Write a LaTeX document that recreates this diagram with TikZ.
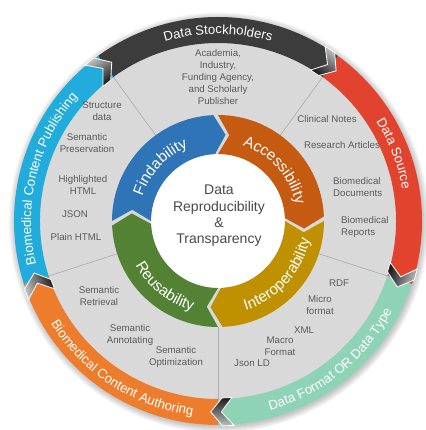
\documentclass[tikz,border=0pt]{standalone}
\usepackage{fontspec}
\setmainfont{Liberation Sans}
\usetikzlibrary{decorations.text}

\definecolor{discgray}{HTML}{D9D9D9}
\definecolor{rulegray}{HTML}{AAB0B5}
\definecolor{itemgray}{HTML}{5A5A5A}
\definecolor{coregray}{HTML}{4A4A4A}
\definecolor{holderband}{HTML}{3C3C3C}
\definecolor{sourceband}{HTML}{E2432E}
\definecolor{formatband}{HTML}{8FD3B6}
\definecolor{authorband}{HTML}{ED7D2C}
\definecolor{publishband}{HTML}{21ACDC}
\definecolor{findarc}{HTML}{2E74B7}
\definecolor{accessarc}{HTML}{C55A11}
\definecolor{interarc}{HTML}{BF9000}
\definecolor{reusearc}{HTML}{548235}

\newcommand{\bandfont}{\fontsize{13.2}{15}\selectfont}
\newcommand{\ringfont}{\fontsize{15.3}{17}\selectfont}

\tikzset{
  itemtext/.style={font=\fontsize{9.7}{12}\selectfont, text=itemgray,
                   align=center, inner sep=0pt},
  coretext/.style={font=\fontsize{14}{16.3}\selectfont, text=coregray,
                   align=center, inner sep=0pt},
  divider/.style={draw=rulegray, line width=0.7pt},
  chevron/.style={top color=black!25, bottom color=black!90,
                  draw=white, line width=0.8pt},
}

% outer band, clockwise from #2 to #3
\newcommand{\outerband}[3]{%
  \fill[#1] (#2:204) arc[start angle=#2, end angle=#3, radius=204]
    -- (#3:178) arc[start angle=#3, end angle=#2, radius=178] -- cycle;}

% dark chevron sitting on a band joint, pointing clockwise
\newcommand{\bandchevron}[1]{%
  \pgfmathsetmacro\chevBack{#1+4.5}%
  \pgfmathsetmacro\chevNotch{#1+1}%
  \pgfmathsetmacro\chevFront{#1+1.3}%
  \pgfmathsetmacro\chevTip{#1-2.2}%
  \pgfmathsetmacro\chevShade{#1-90}%
  \shadedraw[chevron, shading angle=\chevShade]
    (\chevBack:205) -- (\chevNotch:191) -- (\chevBack:177)
    -- (\chevFront:177) -- (\chevTip:191) -- (\chevFront:205) -- cycle;}

% inner arrow: notch at #2, tip just past #3
\newcommand{\ringarrow}[3]{%
  \pgfmathsetmacro\arrEnd{#3+2.5}%
  \pgfmathsetmacro\arrTip{#3-5}%
  \pgfmathsetmacro\arrNotch{#2-7.5}%
  \fill[#1] (#2:106) arc[start angle=#2, end angle=\arrEnd, radius=106]
    -- (\arrTip:86.5) -- (\arrEnd:67)
    arc[start angle=\arrEnd, end angle=#2, radius=67]
    -- (\arrNotch:86.5) -- cycle;}

% white lettering along an arc: radius, from, to, font, text
\newcommand{\arctext}[5]{%
  \path[decorate, decoration={text along path, text align=center,
        text color=white, text={|#4|#5}}]
    (#2:#1) arc[start angle=#2, end angle=#3, radius=#1];}

\begin{document}
\begin{tikzpicture}[x=1pt, y=1pt]
  \useasboundingbox (-218,-209) rectangle (207,221);

  % soft shadow round the wheel
  \foreach \i in {0,...,6}
    \fill[black, opacity=0.035] (1,-1.5) circle ({204+\i});

  \fill[discgray] (0,0) circle (180);
  \foreach \a in {126,54,-18,-90,198}
    \draw[divider] (\a:106) -- (\a:179);

  % outer bands
  \outerband{holderband}{126}{54}
  \outerband{sourceband}{54}{-18}
  \outerband{formatband}{342}{270}
  \outerband{authorband}{270}{198}
  \outerband{publishband}{198}{126}
  \foreach \a in {126,54,-18,-90,198}
    {\bandchevron{\a}}

  \arctext{187}{125}{55}{\bandfont}{Data Stockholders}
  \arctext{187}{56}{-14}{\bandfont}{Data Source}
  \arctext{196}{-86}{-16}{\bandfont}{Data Format OR Data Type}
  \arctext{196}{202}{272}{\bandfont}{Biomedical Content Authoring}
  \arctext{187}{201}{131}{\bandfont}{Biomedical Content Publishing}

  % inner cycle
  \fill[white] (0,0) circle (67);
  \ringarrow{findarc}{180}{90}
  \ringarrow{accessarc}{90}{0}
  \ringarrow{interarc}{0}{-90}
  \ringarrow{reusearc}{-90}{-180}

  \arctext{79.5}{177}{97}{\ringfont}{Findability}
  \arctext{79.5}{83}{1}{\ringfont}{Accessibility}
  \arctext{93.5}{-84}{0}{\ringfont}{Interoperability}
  \arctext{93.5}{191}{271}{\ringfont}{Reusability}

  \node[coretext] (core) at (1,5)
    {Data\\Reproducibility\\\&\\Transparency};

  % stockholders
  \node[itemtext] (holders) at (0,144)
    {Academia,\\Industry,\\Funding Agency,\\and Scholarly\\Publisher};

  % data sources
  \node[itemtext] (clinical) at (109,102) {Clinical Notes};
  \node[itemtext] (research) at (124,76) {Research Articles};
  \node[itemtext, align=left, anchor=west] (documents) at (115,34)
    {Biomedical\\Documents};
  \node[itemtext, align=left, anchor=west] (reports) at (123,-6)
    {Biomedical\\Reports};

  % formats
  \node[itemtext] (rdf) at (121,-62) {RDF};
  \node[itemtext] (micro) at (102,-84) {Micro\\format};
  \node[itemtext] (xml) at (86,-109) {XML};
  \node[itemtext] (macro) at (62,-125) {Macro\\Format};
  \node[itemtext] (jsonld) at (34,-142) {Json LD};

  % authoring
  \node[itemtext] (retrieval) at (-119,-75) {Semantic\\Retrieval};
  \node[itemtext] (annotating) at (-88,-114) {Semantic\\Annotating};
  \node[itemtext] (optimization) at (-42,-136) {Semantic\\Optimization};

  % publishing
  \node[itemtext] (structure) at (-116,110) {Structure\\data};
  \node[itemtext] (preservation) at (-131,78) {Semantic\\Preservation};
  \node[itemtext] (highlighted) at (-135,36) {Highlighted\\HTML};
  \node[itemtext] (json) at (-143,7) {JSON};
  \node[itemtext] (plainhtml) at (-142,-16) {Plain HTML};
\end{tikzpicture}
\end{document}
